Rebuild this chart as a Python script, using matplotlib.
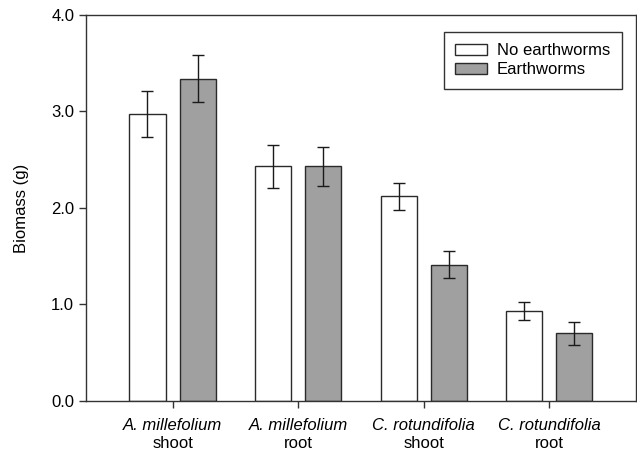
import matplotlib
matplotlib.use('Agg')
import matplotlib.pyplot as plt
import numpy as np

plt.rcParams['font.family'] = 'Liberation Sans'

species = ['A. millefolium', 'A. millefolium', 'C. rotundifolia', 'C. rotundifolia']
parts = ['shoot', 'root', 'shoot', 'root']
no_worms = [2.97, 2.43, 2.12, 0.93]
no_worms_err = [0.24, 0.22, 0.14, 0.09]
worms = [3.34, 2.43, 1.41, 0.70]
worms_err = [0.245, 0.20, 0.14, 0.12]

fig = plt.figure(figsize=(6.37, 4.53), dpi=100)
ax = fig.add_axes([0.135, 0.115, 0.863, 0.852])

x = np.arange(len(parts))
w = 0.287
edge = '#2a2a2a'
ax.bar(x - 0.2, no_worms, w, color='white', edgecolor=edge, linewidth=1.0, label='No earthworms')
ax.bar(x + 0.2, worms, w, color='#a0a0a0', edgecolor=edge, linewidth=1.0, label='Earthworms')
ax.errorbar(x - 0.2, no_worms, yerr=no_worms_err, fmt='none', ecolor='#1a1a1a', elinewidth=1.0, capsize=4.5, capthick=1.0)
ax.errorbar(x + 0.2, worms, yerr=worms_err, fmt='none', ecolor='#1a1a1a', elinewidth=1.0, capsize=4.5, capthick=1.0)

ax.set_xlim(-0.69, 3.69)
ax.set_ylim(0, 4.0)
ax.set_yticks([0, 1, 2, 3, 4])
ax.set_yticklabels(['0.0', '1.0', '2.0', '3.0', '4.0'], fontsize=12)
ax.set_xticks(x)
ax.set_xticklabels(species, fontsize=12, fontstyle='italic')
# second line of the x labels (plant part, upright)
for xi, p in zip(x, parts):
    ax.annotate(p, xy=(xi, 0), xycoords=ax.get_xaxis_transform(), xytext=(0, -31),
                textcoords='offset points', ha='center', va='center', fontsize=12)
ax.set_ylabel('Biomass (g)', fontsize=12, labelpad=16)
ax.tick_params(direction='out', length=5, width=1, color='#333333')
ax.tick_params(axis='x', pad=7)
for sp in ax.spines.values():
    sp.set_color('#333333')
    sp.set_linewidth(1.0)

leg = ax.legend(loc='upper right', bbox_to_anchor=(0.975, 0.957), borderaxespad=0, fontsize=12,
                fancybox=False, edgecolor='#333333', framealpha=1, handlelength=1.9, handleheight=0.7,
                labelspacing=0.25, borderpad=0.7, handletextpad=0.6)
leg.get_frame().set_linewidth(1.0)

fig.savefig('out.png', dpi=100)
